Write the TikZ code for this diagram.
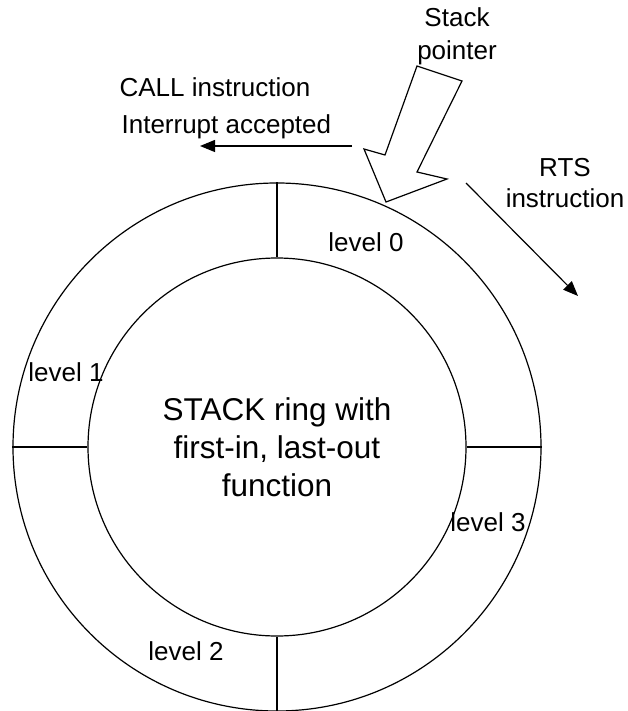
\documentclass[tikz,border=0pt]{standalone}
\usepackage{fontspec}
\setmainfont{Liberation Sans}
\usetikzlibrary{arrows.meta}
\begin{document}
\begin{tikzpicture}[x=1pt,y=-1pt,
  line width=1.2pt,
  lbl/.style={inner sep=0pt,font=\fontsize{26}{31}\selectfont,align=center},
  ring/.style={circle,draw,inner sep=0pt},
  conn/.style={-{Triangle[length=15pt,width=12pt]}}]
\useasboundingbox (0,0) rectangle (628,711);
\node[ring,minimum size=528pt] (outer) at (277,447) {};
\node[ring,minimum size=378pt,align=center,font=\fontsize{31.5}{38}\selectfont] (inner) at (277,447) {STACK ring with\\first-in, last-out\\function};
\draw (outer.north) -- (inner.north);
\draw (outer.south) -- (inner.south);
\draw (outer.west) -- (inner.west);
\draw (outer.east) -- (inner.east);
\node[lbl] (l0) at (366,242) {level 0};
\node[lbl] (l1) at (66,372) {level 1};
\node[lbl] (l2) at (186,651) {level 2};
\node[lbl] (l3) at (488,522) {level 3};
\node[lbl,font=\fontsize{26}{33}\selectfont] (sp) at (457,36) {Stack\\pointer};
\node[lbl] (rts) at (565,183) {RTS\\instruction};
\node[lbl,anchor=west] (call) at (119,87) {CALL instruction};
\node[lbl,anchor=west] (intr) at (121,127) {Interrupt accepted};
% block arrow (stack pointer)
\coordinate (p1) at (417,66);
\coordinate (p2) at (462,81);
\coordinate (p3) at (417,172);
\coordinate (p4) at (447,179);
\coordinate (p5) at (386,202);
\coordinate (p6) at (364,149);
\coordinate (p7) at (385,155);
\draw[line join=miter,fill=white] (p1) -- (p2) -- (p3) -- (p4) -- (p5) -- (p6) -- (p7) -- cycle;
% call arrow
\coordinate (ca) at (352,146);
\coordinate (cb) at (200,146);
\draw[conn] (ca) -- (cb);
% rts arrow
\coordinate (ra) at (466,183);
\coordinate (rb) at (578,296);
\draw[conn] (ra) -- (rb);
\end{tikzpicture}
\end{document}
